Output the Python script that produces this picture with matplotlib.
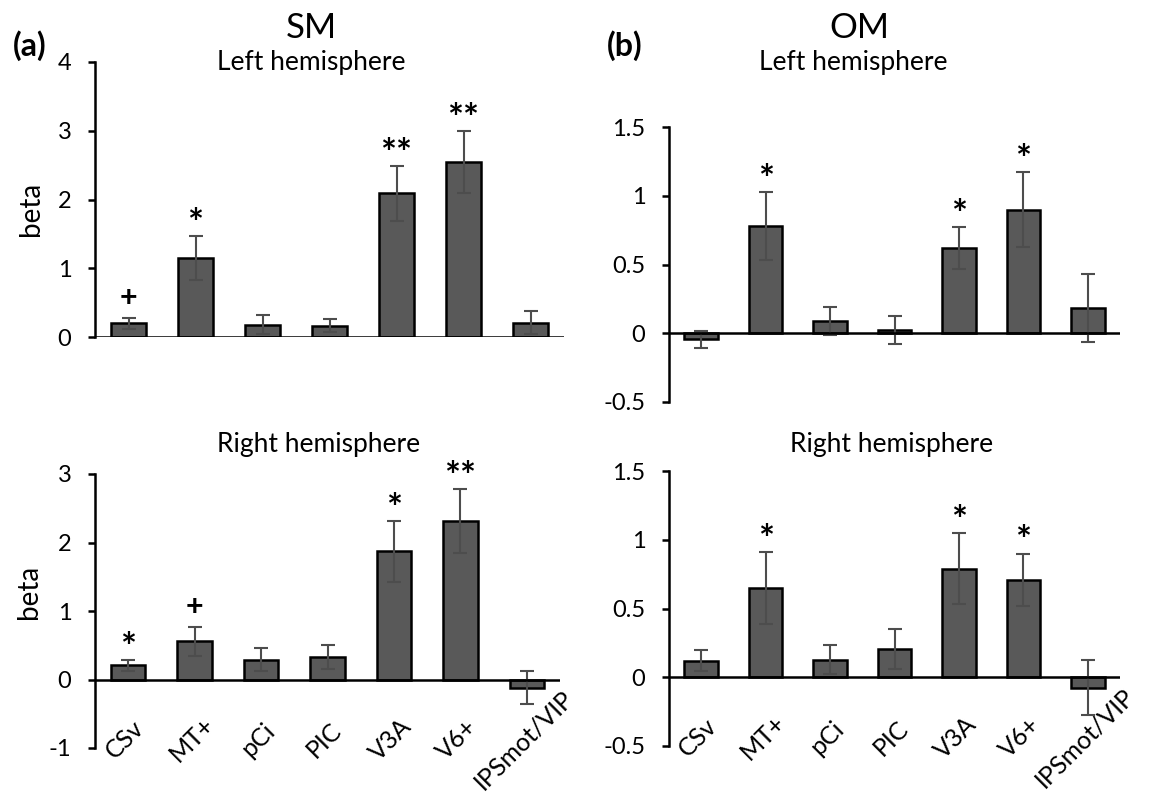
import numpy as np
import matplotlib.pyplot as plt
from matplotlib.transforms import ScaledTranslation

plt.rcParams['font.family'] = ['Lato', 'DejaVu Sans']

regions = ['CSv', 'MT+', 'pCi', 'PIC', 'V3A', 'V6+', 'IPSmot/VIP']

# SM, left hemisphere
sm_left = [0.20, 1.15, 0.18, 0.165, 2.09, 2.54, 0.21]
sm_left_err = [0.08, 0.32, 0.14, 0.09, 0.40, 0.45, 0.17]
sm_left_sig = ['+', '*', '', '', '**', '**', '']

# SM, right hemisphere
sm_right = [0.205, 0.56, 0.29, 0.33, 1.87, 2.31, -0.117]
sm_right_err = [0.085, 0.21, 0.165, 0.18, 0.44, 0.47, 0.235]
sm_right_sig = ['*', '+', '', '', '*', '**', '']

# OM, left hemisphere
om_left = [-0.045, 0.78, 0.09, 0.022, 0.62, 0.90, 0.185]
om_left_err = [0.065, 0.245, 0.10, 0.10, 0.155, 0.27, 0.245]
om_left_sig = ['', '*', '', '', '*', '*', '']

# OM, right hemisphere
om_right = [0.12, 0.65, 0.127, 0.204, 0.79, 0.71, -0.075]
om_right_err = [0.075, 0.26, 0.105, 0.147, 0.26, 0.19, 0.20]
om_right_sig = ['', '*', '', '', '*', '*', '']

W, H = 1153, 794
fig = plt.figure(figsize=(W / 100, H / 100), dpi=100)


def px_axes(l, t, r, b):
    return fig.add_axes([l / W, 1 - b / H, (r - l) / W, (b - t) / H])


def panel(ax, vals, errs, sig, ylim, yticks, ticklabels, show_labels):
    x = np.arange(len(regions))
    ax.bar(x, vals, width=0.52, color='#595959', edgecolor='black',
           linewidth=1.8, zorder=2)
    ax.errorbar(x, vals, yerr=errs, fmt='none', ecolor='#4d4d4d',
                elinewidth=1.5, capsize=5, capthick=1.5, zorder=3)
    ax.axhline(0, color='black', lw=1.8, zorder=4)
    for i in range(len(regions)):
        if sig[i]:
            top = vals[i] + errs[i]
            plus = sig[i] == '+'
            ax.annotate(sig[i], xy=(i, top), xytext=(0, 14 if plus else 8),
                        textcoords='offset points', ha='center',
                        va='center', fontsize=22 if plus else 27,
                        fontweight='bold')
    ax.set_xlim(-0.5, 6.5)
    ax.set_ylim(*ylim)
    ax.set_yticks(yticks)
    ax.set_yticklabels(ticklabels, fontsize=17)
    for s in ['top', 'right', 'bottom']:
        ax.spines[s].set_visible(False)
    ax.spines['left'].set_linewidth(1.8)
    ax.tick_params(axis='y', length=5, width=1.8, pad=12)
    ax.set_xticks(x)
    if show_labels:
        ax.set_xticklabels(regions, fontsize=18, rotation=45, ha='center',
                           va='center', rotation_mode='anchor')
        ax.tick_params(axis='x', length=0, pad=-6)
        off = ScaledTranslation(-3 / 100, 0, fig.dpi_scale_trans)
        for lbl in ax.get_xticklabels():
            lbl.set_transform(lbl.get_transform() + off)
    else:
        ax.tick_params(axis='x', length=0, labelbottom=False)


ax1 = px_axes(95, 62, 564, 337)
panel(ax1, sm_left, sm_left_err, sm_left_sig, (0, 4), [0, 1, 2, 3, 4],
      ['0', '1', '2', '3', '4'], False)

ax2 = px_axes(669, 127, 1120, 402)
panel(ax2, om_left, om_left_err, om_left_sig, (-0.5, 1.5),
      [-0.5, 0, 0.5, 1, 1.5], ['-0.5', '0', '0.5', '1', '1.5'], False)

ax3 = px_axes(95, 474, 560, 748)
panel(ax3, sm_right, sm_right_err, sm_right_sig, (-1, 3), [-1, 0, 1, 2, 3],
      ['-1', '0', '1', '2', '3'], True)

ax4 = px_axes(669, 471, 1120, 746)
panel(ax4, om_right, om_right_err, om_right_sig, (-0.5, 1.5),
      [-0.5, 0, 0.5, 1, 1.5], ['-0.5', '0', '0.5', '1', '1.5'], True)


def ftext(x, y, s, **kw):
    fig.text(x / W, 1 - y / H, s, **kw)


ftext(30, 46, '(a)', fontsize=23, fontweight='bold', ha='center', va='center')
ftext(625, 46, '(b)', fontsize=23, fontweight='bold', ha='center', va='center')
ftext(311, 38, 'SM', fontsize=25, ha='center', va='baseline')
ftext(859, 38, 'OM', fontsize=25, ha='center', va='baseline')
ftext(311, 70, 'Left hemisphere', fontsize=19, ha='center', va='baseline')
ftext(853, 70, 'Left hemisphere', fontsize=19, ha='center', va='baseline')
ftext(319, 452, 'Right hemisphere', fontsize=19, ha='center', va='baseline')
ftext(892, 452, 'Right hemisphere', fontsize=19, ha='center', va='baseline')
ftext(31, 209, 'beta', fontsize=20, rotation=90, ha='center', va='center')
ftext(29, 592, 'beta', fontsize=20, rotation=90, ha='center', va='center')

fig.savefig('out.png', dpi=100)
